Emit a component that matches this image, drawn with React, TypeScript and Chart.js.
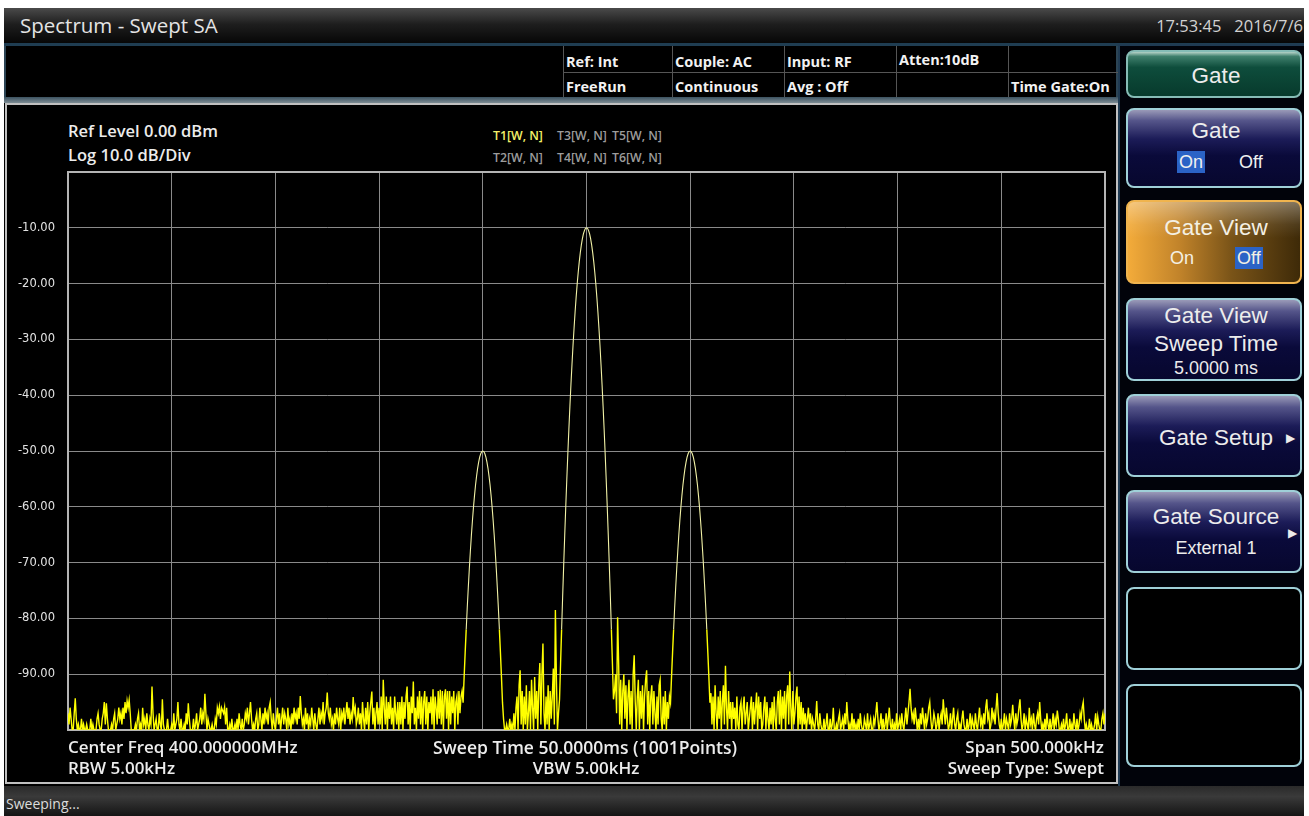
import React, { useEffect, useRef } from 'react';
import { Chart, registerables } from 'chart.js';

Chart.register(...registerables);

// ---- DATA (dBm, one value per sweep point, 1001 points across 500 kHz span) ----
// points 0..380
const noiseLow = [
  -97, -99, -96, -98, -100, -100, -97, -94.3, -98, -100, -99, -100, -100, -98, -100, -99, -100, -100, -99, -100,
  -100, -100, -98, -100, -99, -100, -100, -100, -98, -97, -99, -100, -100, -98, -97, -95, -99, -95.2, -98, -100,
  -100, -100, -99, -100, -98, -97, -100, -99, -98, -96, -98, -97, -99, -96, -98, -95, -97, -94.8, -96, -94.6,
  -97, -100, -100, -100, -100, -99, -100, -98, -97, -100, -99, -100, -96, -99, -98, -100, -97, -99, -100, -98,
  -99, -92.2, -97, -100, -99, -98, -100, -100, -97, -99, -100, -94.5, -99, -100, -100, -100, -98, -100, -100, -100,
  -99, -100, -97, -100, -99, -98, -95, -99, -100, -98, -100, -100, -99, -100, -97, -99, -95.2, -98, -100, -100,
  -100, -98, -100, -99, -97, -100, -99, -98, -96, -99, -97, -98, -93.5, -97, -100, -98, -99, -100, -100, -99,
  -100, -100, -98, -99, -96, -97, -95.8, -98, -96, -96.5, -97, -95.9, -99, -96, -100, -100, -99, -100, -98, -100,
  -100, -99, -100, -98, -100, -97, -99, -100, -98, -100, -99, -97, -98, -96, -99, -97, -95, -98, -100, -99,
  -100, -98, -97, -100, -99, -96, -98, -100, -97, -99, -96, -98, -97, -99, -96, -95, -98, -100, -97, -99,
  -100, -98, -96, -99, -97, -100, -98, -96, -99, -97, -98, -100, -96, -99, -98, -100, -97, -99, -96, -98,
  -97, -99, -96, -98, -93.9, -97, -99, -98, -100, -96, -99, -97, -100, -98, -99, -96, -98, -100, -97, -99,
  -100, -98, -96, -99, -97, -98, -95, -99, -97, -96, -93.3, -97, -98, -96, -99, -98, -100, -97, -99, -96,
  -98, -99, -96, -100, -97, -98, -96, -99, -97, -95, -98, -96, -99, -97, -98, -94.1, -97, -96, -99, -98,
  -96, -99, -97, -100, -95, -98, -100, -96, -99, -95, -100, -97, -95, -93.1, -99, -96, -100, -97, -95, -99,
  -96, -99, -94, -100, -91, -96, -99, -94, -100, -95, -98, -94, -99, -96, -100, -94, -97, -99, -95, -100,
  -95, -99, -94, -100, -95, -98, -94, -92.2, -99, -95, -100, -94, -97, -91.3, -99, -96, -100, -94, -98, -93,
  -99, -94, -100, -95, -93, -99, -94, -100, -95, -97, -94, -99, -92.7, -100, -94, -96, -99, -93, -98, -92.8,
  -99, -93, -100, -94, -92.7, -98, -93, -100, -93, -99, -94, -97, -93, -100, -95, -94, -99, -93, -97, -94,
  -93,
];
// points 381..419 (lower tone, peak -50 dBm)
const sidePeakLeft = [
  -95.1, -90.5, -86.1, -82, -78.1, -74.5, -71.1, -68, -65.1, -62.5, -60.1, -58, -56.1, -54.5, -53.1, -52, -51.1, -50.5, -50.1,
  -50,
  -50.1, -50.5, -51.1, -52, -53.1, -54.5, -56.1, -58, -60.1, -62.5, -65.1, -68, -71.1, -74.5, -78.1, -82, -86.1, -90.5, -95.1,
];
// points 420..473
const noiseGapLeft = [
  -98, -100, -100, -99, -100, -100, -98, -100, -99, -100, -97, -100, -96, -94, -100, -92, -89.3, -99, -93, -100,
  -94, -99, -92, -100, -97, -93, -100, -91, -96, -100, -90.5, -98, -93, -100, -92, -88, -99, -90, -84.5, -97,
  -100, -94, -99, -92, -100, -93, -98, -94, -89, -99, -78.5, -91, -100, -97,
];
// points 474..526 (carrier, peak -10 dBm)
const mainPeak = [
  -94.5, -88.1, -82, -76.1, -70.5, -65.1, -60, -55.1, -50.5, -46.1, -42, -38.1, -34.5, -31.1, -28, -25.1, -22.5, -20.1, -18,
  -16.1, -14.5, -13.1, -12, -11.1, -10.5, -10.1,
  -10,
  -10.1, -10.5, -11.1, -12, -13.1, -14.5, -16.1, -18, -20.1, -22.5, -25.1, -28, -31.1, -34.5, -38.1, -42, -46.1, -50.5,
  -55.1, -60, -65.1, -70.5, -76.1, -82, -88.1, -94.5,
];
// points 527..580
const noiseGapRight = [
  -93, -90, -97, -79.8, -88, -99, -91, -100, -93, -90, -98, -92, -100, -94, -91, -99, -93, -100, -90, -86.6,
  -95, -100, -94, -91, -100, -93, -98, -92, -100, -94, -91, -89.3, -99, -93, -100, -94, -92, -99, -93, -97,
  -100, -94, -99, -92, -91, -98, -100, -94, -99, -93, -100, -95, -98, -94,
];
// points 581..619 (upper tone, peak -50 dBm)
const sidePeakRight = [
  -95.1, -90.5, -86.1, -82, -78.1, -74.5, -71.1, -68, -65.1, -62.5, -60.1, -58, -56.1, -54.5, -53.1, -52, -51.1, -50.5, -50.1,
  -50,
  -50.1, -50.5, -51.1, -52, -53.1, -54.5, -56.1, -58, -60.1, -62.5, -65.1, -68, -71.1, -74.5, -78.1, -82, -86.1, -90.5, -95.1,
];
// points 620..1000
const noiseHigh = [
  -93.4, -99, -94, -100, -92, -97, -100, -94, -98, -93, -100, -95, -92, -99, -88.5, -96, -100, -93, -98, -95,
  -100, -95, -98, -96, -100, -94, -99, -100, -96, -95, -100, -96, -94, -99, -97, -95, -100, -98, -96, -94,
  -100, -95, -99, -96, -93.3, -100, -94, -98, -95, -100, -99, -96, -94, -100, -95, -98, -100, -96, -99, -95,
  -100, -94, -98, -100, -95, -93, -99, -92.8, -100, -94, -98, -93, -100, -94, -92, -99, -89.5, -96, -100, -93,
  -99, -97, -94, -92.2, -100, -94, -99, -95, -100, -96, -99, -97, -100, -98, -96, -99, -97, -100, -98, -99,
  -100, -98, -94.8, -99, -100, -97, -99, -100, -100, -98, -100, -99, -97, -100, -100, -98, -100, -99, -96, -100,
  -100, -99, -100, -98, -97, -100, -99, -98, -100, -97, -99, -95, -98, -100, -99, -100, -97, -100, -98, -100,
  -99, -100, -98, -100, -97, -99, -100, -100, -98, -99, -100, -97, -100, -99, -98, -100, -100, -98, -99, -97,
  -95, -98, -100, -99, -97, -100, -98, -100, -99, -97, -100, -98, -96, -99, -100, -98, -100, -99, -100, -97,
  -100, -99, -98, -100, -97, -99, -100, -98, -96, -99, -97, -95, -92.6, -96, -98, -97, -99, -96, -98, -100,
  -98, -100, -97, -99, -96, -98, -100, -97, -99, -98, -96, -95, -98, -100, -99, -97, -98, -100, -99, -97,
  -100, -98, -97, -99, -94.5, -97, -99, -96, -98, -100, -99, -97, -100, -98, -96, -99, -100, -98, -97, -100,
  -99, -100, -98, -96.5, -99, -100, -100, -98, -100, -99, -97, -100, -98, -99, -100, -97, -99, -100, -98, -96,
  -99, -98, -100, -97, -99, -96, -94.5, -98, -97, -100, -99, -96, -98, -97, -99, -96, -93.4, -97, -99, -100,
  -98, -100, -99, -97, -100, -98, -99, -100, -97, -99, -98, -95.5, -98, -100, -97, -99, -98, -96, -94.5, -98,
  -100, -99, -97, -100, -98, -99, -100, -96, -99, -98, -100, -97, -99, -100, -98, -97, -99, -95, -98, -100,
  -99, -100, -98, -100, -97, -99, -100, -98, -100, -99, -97, -100, -98, -99, -96.5, -98, -100, -100, -99, -100,
  -98, -100, -99, -97, -100, -100, -98, -100, -99, -100, -97, -99, -100, -98, -100, -99, -97, -98, -96, -95,
  -98, -100, -99, -100, -100, -98, -100, -99, -100, -100, -99, -97, -100, -97.6, -99, -100, -100, -98, -97, -99,
  -97,
];

const spanStartKHz = -250; // relative to center 400 MHz
const spanEndKHz = 250;
const pointStepKHz = 0.5;
const freqDivKHz = 50;
const refLevel = 0;
const bottomLevel = -100;
const dbPerDiv = 10;

const headerRow1 = ['Ref: Int', 'Couple: AC', 'Input: RF', 'Atten:10dB', ''];
const headerRow2 = ['FreeRun', 'Continuous', 'Avg : Off', '', 'Time Gate:On'];
const traceRow1 = ['T1[W, N]', 'T3[W, N]', 'T5[W, N]'];
const traceRow2 = ['T2[W, N]', 'T4[W, N]', 'T6[W, N]'];

const OS = '"Open Sans", "Noto Sans", sans-serif';
const AR = '"Liberation Sans", Arial, sans-serif';

type TxtProps = {
  x: number; y: number; align?: 'left' | 'center' | 'right'; size: number; weight?: number;
  color?: string; family?: string; h?: number; children?: any; style?: any;
};
function Txt({ x, y, align = 'left', size, weight = 400, color = '#e8e8e8', family = OS, h = 24, children, style }: TxtProps) {
  const W = 500;
  let left = x;
  if (align === 'center') left = x - W / 2;
  if (align === 'right') left = x - W;
  return (
    <div
      style={{
        position: 'absolute', left, top: y - h / 2, width: W, height: h, lineHeight: h + 'px',
        textAlign: align, fontSize: size, fontWeight: weight, color, fontFamily: family, whiteSpace: 'nowrap',
        ...style,
      }}
    >
      {children}
    </div>
  );
}

const navyBg = 'linear-gradient(to bottom, #9a9ab8 0%, #55558a 14%, #1c1c58 38%, #0a0a3a 60%, #07072e 100%)';
const btnBorder = '2px solid #9fd0d8';

function Btn({ top, h, bg, border = btnBorder, children }: any) {
  return (
    <div
      style={{
        position: 'absolute', left: 1126, top, width: 176, height: h, boxSizing: 'border-box',
        background: bg, border, borderRadius: 8, overflow: 'hidden',
      }}
    >
      {children}
    </div>
  );
}

function Hi({ children }: any) {
  return <span style={{ background: '#2b63c6', padding: '1px 2px' }}>{children}</span>;
}

export default function App() {
  const ref = useRef<HTMLCanvasElement | null>(null);

  useEffect(() => {
    document.body.style.margin = '0';
    const trace = [
      ...noiseLow, ...sidePeakLeft, ...noiseGapLeft, ...mainPeak, ...noiseGapRight, ...sidePeakRight, ...noiseHigh,
    ];
    const pts = trace.map((v, i) => ({ x: spanStartKHz + i * pointStepKHz, y: v }));
    const frame = {
      id: 'frame',
      beforeDatasetsDraw(c: any) {
        const { ctx, chartArea: a } = c;
        ctx.save();
        ctx.strokeStyle = '#b4b4b4';
        ctx.lineWidth = 2;
        ctx.strokeRect(a.left, a.top, a.right - a.left, a.bottom - a.top);
        ctx.restore();
      },
    };
    const noPad = (s: any) => {
      s.paddingTop = 0; s.paddingBottom = 0; s.paddingLeft = 0; s.paddingRight = 0;
    };
    const isLobe = (c: any) => c.p0.parsed.y > -84 && c.p1.parsed.y > -84;
    const chart = new Chart(ref.current as HTMLCanvasElement, {
      type: 'line',
      data: {
        datasets: [
          {
            data: pts,
            borderColor: '#ffff00',
            borderWidth: 1.4,
            pointRadius: 0,
            tension: 0,
            fill: false,
            segment: {
              borderColor: (c: any) => (isLobe(c) ? '#f2f2a6' : undefined),
              borderWidth: (c: any) => (isLobe(c) ? 1.1 : undefined),
            },
          },
        ],
      },
      options: {
        responsive: false,
        animation: false,
        events: [],
        layout: { padding: { left: 0, right: 12, top: 12, bottom: 10 } },
        plugins: { legend: { display: false }, tooltip: { enabled: false } },
        scales: {
          x: {
            type: 'linear',
            min: spanStartKHz,
            max: spanEndKHz,
            ticks: { display: false, stepSize: freqDivKHz },
            grid: { color: '#8a8a8a', lineWidth: 1, drawTicks: false },
            border: { display: false },
            afterFit: (s: any) => { s.height = 0; noPad(s); },
          },
          y: {
            type: 'linear',
            min: bottomLevel,
            max: refLevel,
            ticks: {
              stepSize: dbPerDiv,
              padding: 13,
              color: '#e2e2e2',
              font: { family: '"DejaVu Sans", sans-serif', size: 11.5 },
              callback: (v: any) => (v === refLevel || v === bottomLevel ? '' : Number(v).toFixed(2)),
            },
            grid: { color: '#8a8a8a', lineWidth: 1, drawTicks: false },
            border: { display: false },
            afterFit: (s: any) => { s.width = 62; noPad(s); },
          },
        },
      } as any,
      plugins: [frame],
    });
    return () => chart.destroy();
  }, []);

  const colX = [563, 672, 784, 896, 1008];
  const tX = [493, 557, 612];

  return (
    <div style={{ position: 'absolute', left: 0, top: 0, width: 1309, height: 816, background: '#fff', overflow: 'hidden' }}>
      {/* screen */}
      <div style={{ position: 'absolute', left: 4, top: 8, width: 1300, height: 808, background: '#000' }} />
      {/* title bar */}
      <div
        style={{
          position: 'absolute', left: 4, top: 8, width: 1300, height: 36,
          background: 'linear-gradient(to bottom, #4a4a4a 0%, #1e1e1e 45%, #050505 100%)',
        }}
      />
      <div style={{ position: 'absolute', left: 4, top: 43, width: 1300, height: 3, background: '#1f3d52' }} />
      <Txt x={20} y={25} size={20.5} color="#e4e4e4">Spectrum - Swept SA</Txt>
      <Txt x={1303} y={26} align="right" size={16.5} color="#d2d2d2">17:53:45&nbsp;&nbsp;&nbsp;2016/7/6</Txt>

      {/* header info */}
      <div
        style={{
          position: 'absolute', left: 4, top: 46, width: 1114, height: 51, boxSizing: 'border-box',
          background: '#000', borderLeft: '2px solid #2c4454', borderRight: '2px solid #2c4454',
        }}
      />
      <div style={{ position: 'absolute', left: colX[0], top: 72, width: 1118 - colX[0], height: 1, background: '#555' }} />
      {colX.map((x) => (
        <div key={x} style={{ position: 'absolute', left: x, top: 46, width: 1, height: 51, background: '#555' }} />
      ))}
      {headerRow1.map((t, i) => (
        <Txt key={'h1' + i} x={colX[i] + 3} y={i === 3 ? 60 : 62} size={14.5} weight={700} color="#f2f2f2">{t}</Txt>
      ))}
      {headerRow2.map((t, i) => (
        <Txt key={'h2' + i} x={colX[i] + 3} y={87} size={14.5} weight={700} color="#f2f2f2">{t}</Txt>
      ))}
      <div
        style={{
          position: 'absolute', left: 4, top: 97, width: 1114, height: 6,
          background: 'linear-gradient(to bottom, #3c5260, #7d8c94)',
        }}
      />

      {/* plot panel */}
      <div
        style={{
          position: 'absolute', left: 5, top: 103, width: 1113, height: 681, boxSizing: 'border-box',
          background: '#000', border: '2px solid #c0c0c0',
        }}
      />
      <Txt x={68} y={131} size={16.5} weight={600} color="#ececec">Ref Level 0.00 dBm</Txt>
      <Txt x={68} y={155} size={16.5} weight={600} color="#ececec">Log 10.0 dB/Div</Txt>
      {traceRow1.map((t, i) => (
        <Txt key={'t1' + i} x={tX[i]} y={136} size={12.3} weight={600} color={i === 0 ? '#f4f06a' : '#9c9c9c'}>{t}</Txt>
      ))}
      {traceRow2.map((t, i) => (
        <Txt key={'t2' + i} x={tX[i]} y={158} size={12.3} weight={600} color="#9c9c9c">{t}</Txt>
      ))}
      <canvas
        ref={ref}
        width={1111}
        height={580}
        style={{ position: 'absolute', left: 6, top: 160, width: 1111, height: 580 }}
      />
      <Txt x={68} y={747} size={17} weight={600} color="#ececec">Center Freq 400.000000MHz</Txt>
      <Txt x={68} y={768} size={17} weight={600} color="#ececec">RBW 5.00kHz</Txt>
      <Txt x={585} y={747} align="center" size={17.5} weight={600} color="#ececec">Sweep Time 50.0000ms (1001Points)</Txt>
      <Txt x={586} y={768} align="center" size={17} weight={600} color="#ececec">VBW 5.00kHz</Txt>
      <Txt x={1104} y={747} align="right" size={17} weight={600} color="#ececec">Span 500.000kHz</Txt>
      <Txt x={1104} y={768} align="right" size={17} weight={600} color="#ececec">Sweep Type: Swept</Txt>

      {/* status bar */}
      <div
        style={{
          position: 'absolute', left: 4, top: 786, width: 1300, height: 30,
          background: 'linear-gradient(to bottom, #2a2a2a 0%, #3a3a3a 35%, #141414 100%)',
        }}
      />
      <Txt x={6} y={804} size={14} color="#dcdcdc">Sweeping...</Txt>

      {/* soft-key panel */}
      <div
        style={{
          position: 'absolute', left: 1118, top: 44, width: 186, height: 742, boxSizing: 'border-box',
          background: '#01030a', borderLeft: '2px solid #1f3a52', borderTop: '2px solid #1f3a52',
        }}
      />
      <Btn
        top={50}
        h={48}
        bg="linear-gradient(to bottom, #b5d3c8 0%, #3f7f6c 10%, #0e4d3c 35%, #073a2c 100%)"
        border="2px solid #86bcb6"
      >
        <Txt x={88} y={24} align="center" size={22.5} family={AR} color="#ececec">Gate</Txt>
      </Btn>
      <Btn top={108} h={80} bg={navyBg}>
        <Txt x={88} y={21} align="center" size={22.5} family={AR} color="#ececec">Gate</Txt>
        <Txt x={49} y={52} size={18} family={AR} color="#f0f0f0"><Hi>On</Hi></Txt>
        <Txt x={111} y={52} size={18} family={AR} color="#f0f0f0">Off</Txt>
      </Btn>
      <Btn
        top={200}
        h={84}
        bg="linear-gradient(to bottom, rgba(255,255,255,0.35) 0%, rgba(255,255,255,0.08) 28%, rgba(0,0,0,0) 45%), linear-gradient(to right, #f3ab3a 0%, #c1832a 30%, #7a5418 60%, #3e2a08 100%)"
        border="2px solid #f0b44e"
      >
        <Txt x={88} y={26} align="center" size={22.5} family={AR} color="#f4f0e4">Gate View</Txt>
        <Txt x={42} y={56} size={18} family={AR} color="#f4f0e4">On</Txt>
        <Txt x={107} y={56} size={18} family={AR} color="#f4f0e4"><Hi>Off</Hi></Txt>
      </Btn>
      <Btn top={298} h={83} bg={navyBg}>
        <Txt x={88} y={16} align="center" size={22.5} family={AR} color="#ececec">Gate View</Txt>
        <Txt x={88} y={44} align="center" size={22.5} family={AR} color="#ececec">Sweep Time</Txt>
        <Txt x={88} y={68} align="center" size={18} family={AR} color="#ececec">5.0000 ms</Txt>
      </Btn>
      <Btn top={394} h={83} bg={navyBg}>
        <Txt x={88} y={42} align="center" size={22.5} family={AR} color="#ececec">Gate Setup</Txt>
        <Txt x={158} y={42} size={12} family={AR} color="#ececec">▶</Txt>
      </Btn>
      <Btn top={490} h={83} bg={navyBg}>
        <Txt x={88} y={25} align="center" size={22.5} family={AR} color="#ececec">Gate Source</Txt>
        <Txt x={88} y={56} align="center" size={18} family={AR} color="#ececec">External 1</Txt>
        <Txt x={160} y={41} size={12} family={AR} color="#ececec">▶</Txt>
      </Btn>
      <Btn top={587} h={83} bg="#000" />
      <Btn top={684} h={83} bg="#000" />
    </div>
  );
}
